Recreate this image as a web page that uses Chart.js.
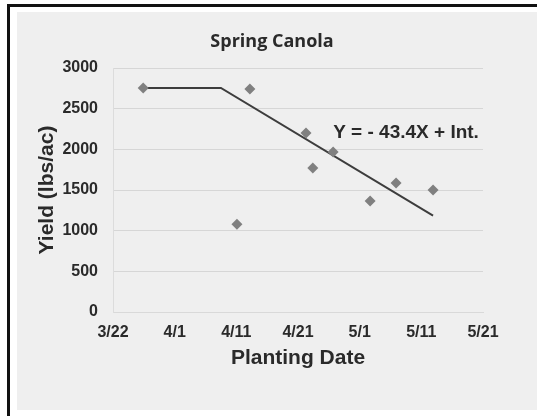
<!DOCTYPE html>
<html><head><meta charset="utf-8">
<script src="https://cdn.jsdelivr.net/npm/chart.js@4"></script>
<style>html,body{margin:0;padding:0;background:#fff;}canvas{display:block}</style>
</head><body>
<canvas id="c" width="537" height="416"></canvas>
<script>
// ---- data ----
const chartTitle = 'Spring Canola';
const xAxisTitle = 'Planting Date';
const yAxisTitle = 'Yield (lbs/ac)';
const dateTickLabels = ['3/22', '4/1', '4/11', '4/21', '5/1', '5/11', '5/21']; // every 10 days from 3/22
const plantingDay = [4.9, 20.1, 22.2, 31.3, 32.4, 35.7, 41.7, 45.9, 51.9];   // days after 3/22
const yieldLbsAc  = [2755, 1080, 2742, 2200, 1770, 1967, 1365, 1586, 1500];
const fitDay   = [4.9, 17.5, 51.9];
const fitYield = [2755, 2755, 1185];
const equationText = 'Y = - 43.4X + Int.';
const equationAt = { day: 35.7, yieldValue: 2200 };

const TEXT = '#2a2a2a';

const framePlugin = {
  id: 'frame',
  beforeDraw(chart) {
    const ctx = chart.ctx, W = chart.width, H = chart.height;
    ctx.save();
    ctx.fillStyle = '#ffffff'; ctx.fillRect(0, 0, W, H);
    ctx.fillStyle = '#111111'; ctx.fillRect(7, 4, W - 7, H - 4);
    ctx.fillStyle = '#ffffff'; ctx.fillRect(10, 7, W - 10, H - 7);
    ctx.fillStyle = '#efefef'; ctx.fillRect(17, 12, W - 17, 398);
    ctx.restore();
  },
  afterLayout(chart) {
    const t = chart.titleBlock;
    if (t) { t.left = 61; t.right = 483; t.width = t.right - t.left; }
  },
  afterDatasetsDraw(chart) {
    const ctx = chart.ctx;
    const x = chart.scales.x.getPixelForValue(equationAt.day);
    const y = chart.scales.y.getPixelForValue(equationAt.yieldValue);
    ctx.save();
    ctx.font = 'bold 19px "Liberation Sans", Arial, sans-serif';
    ctx.fillStyle = TEXT;
    ctx.textAlign = 'left';
    ctx.textBaseline = 'middle';
    ctx.fillText(equationText, x, y);
    ctx.restore();
  }
};

new Chart(document.getElementById('c'), {
  type: 'scatter',
  data: {
    datasets: [
      {
        label: 'Observed',
        data: plantingDay.map((d, i) => ({ x: d, y: yieldLbsAc[i] })),
        pointStyle: 'rectRot',
        pointRadius: 5.5,
        pointBackgroundColor: '#808080',
        pointBorderColor: '#808080',
        pointBorderWidth: 0,
        showLine: false
      },
      {
        label: 'Fit',
        data: fitDay.map((d, i) => ({ x: d, y: fitYield[i] })),
        showLine: true,
        borderColor: '#3d3d3d',
        borderWidth: 2,
        pointRadius: 0,
        fill: false,
        tension: 0
      }
    ]
  },
  options: {
    responsive: false,
    animation: false,
    devicePixelRatio: 1,
    layout: { padding: { left: 0, right: 54, top: 0, bottom: 0 } },
    plugins: {
      legend: { display: false },
      tooltip: { enabled: false },
      title: {
        display: true,
        text: chartTitle,
        color: TEXT,
        font: { family: 'Open Sans', weight: 'bold', size: 18 },
        padding: { top: 31.2, bottom: 15.2 }
      }
    },
    scales: {
      x: {
        type: 'linear',
        min: 0, max: 60,
        afterFit(s) { s.height = 104; },
        grid: { display: false, drawTicks: false },
        border: { display: true, color: '#d9d9d9' },
        ticks: {
          stepSize: 10,
          autoSkip: false,
          maxRotation: 0,
          padding: 11.4,
          color: TEXT,
          font: { family: 'Liberation Sans', weight: 'bold', size: 16 },
          callback: (v) => dateTickLabels[Math.round(v / 10)]
        },
        title: {
          display: true,
          text: xAxisTitle,
          color: TEXT,
          font: { family: 'Liberation Sans', weight: 'bold', size: 21 },
          padding: { top: 0, bottom: 45.4 }
        }
      },
      y: {
        min: 0, max: 3000,
        afterFit(s) { s.width = 113; },
        grid: { color: '#d6d6d6', lineWidth: 1, drawTicks: false },
        border: { display: true, color: '#dcdcdc' },
        ticks: {
          stepSize: 500,
          padding: 15,
          color: TEXT,
          font: { family: 'Liberation Sans', weight: 'bold', size: 16 },
          callback: (v) => String(v)
        },
        title: {
          display: true,
          text: yAxisTitle,
          color: TEXT,
          font: { family: 'Liberation Sans', weight: 'bold', size: 21 },
          padding: { top: 34.4, bottom: 0 }
        }
      }
    }
  },
  plugins: [framePlugin]
});
</script>
</body></html>
